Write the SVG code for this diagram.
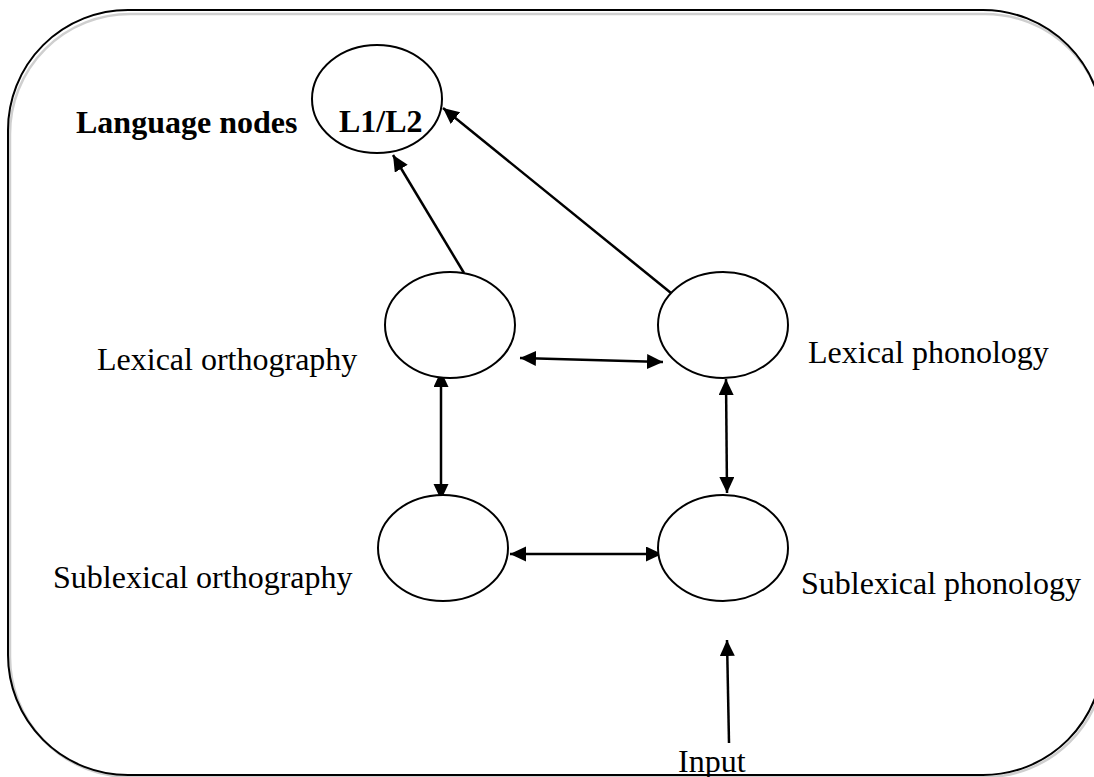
<svg xmlns="http://www.w3.org/2000/svg" width="1094" height="777" viewBox="0 0 1094 777">
<style>
.frame{fill:none;stroke:#000;stroke-width:2}
.shadow{fill:none;stroke:#cfcfcf;stroke-width:2.5}
.node{fill:#fff;stroke:#000;stroke-width:2}
.lbl{font-family:"Liberation Serif","Times New Roman",serif;font-size:32px;fill:#000}
.bold{font-weight:bold}
.conn{fill:none;stroke:#000;stroke-width:2.5}
</style>
<defs>
<marker id="ah" markerUnits="userSpaceOnUse" markerWidth="17" markerHeight="16" refX="16" refY="7.5" orient="auto-start-reverse">
<path d="M0,0 L16,7.5 L0,15 z" fill="#000"/>
</marker>
</defs>
<rect width="1094" height="777" fill="#fff"/>
<g id="frame">
<rect class="shadow" x="10" y="14" width="1095" height="763" rx="120" ry="120"/>
<rect class="frame" x="8" y="10" width="1095" height="765" rx="120" ry="120"/>
</g>
<g id="connectors">
<line class="conn" x1="464" y1="273" x2="393" y2="155" marker-end="url(#ah)"/>
<line class="conn" x1="671" y1="293" x2="443" y2="108" marker-end="url(#ah)"/>
<line class="conn" x1="520" y1="358" x2="663" y2="362" marker-start="url(#ah)" marker-end="url(#ah)"/>
<line class="conn" x1="441" y1="371" x2="441" y2="500" marker-start="url(#ah)" marker-end="url(#ah)"/>
<line class="conn" x1="726" y1="379" x2="727" y2="493" marker-start="url(#ah)" marker-end="url(#ah)"/>
<line class="conn" x1="510" y1="554" x2="662" y2="554" marker-start="url(#ah)" marker-end="url(#ah)"/>
<line class="conn" x1="729" y1="743" x2="727" y2="640" marker-end="url(#ah)"/>
</g>
<g id="language-nodes">
<ellipse class="node" cx="377" cy="99" rx="65" ry="54"/>
<text class="lbl bold" x="339" y="132">L1/L2</text>
<text class="lbl bold" x="76" y="133">Language nodes</text>
</g>
<g id="lexical-orthography">
<ellipse class="node" cx="450" cy="325" rx="65" ry="53"/>
<text class="lbl" x="97" y="370">Lexical orthography</text>
</g>
<g id="lexical-phonology">
<ellipse class="node" cx="723" cy="325" rx="65" ry="53"/>
<text class="lbl" x="808" y="363">Lexical phonology</text>
</g>
<g id="sublexical-orthography">
<ellipse class="node" cx="443" cy="548" rx="65" ry="53"/>
<text class="lbl" x="53" y="588">Sublexical orthography</text>
</g>
<g id="sublexical-phonology">
<ellipse class="node" cx="723" cy="548" rx="65" ry="53"/>
<text class="lbl" x="801" y="594">Sublexical phonology</text>
</g>
<g id="input">
<text class="lbl" x="678" y="772">Input</text>
</g>
</svg>
